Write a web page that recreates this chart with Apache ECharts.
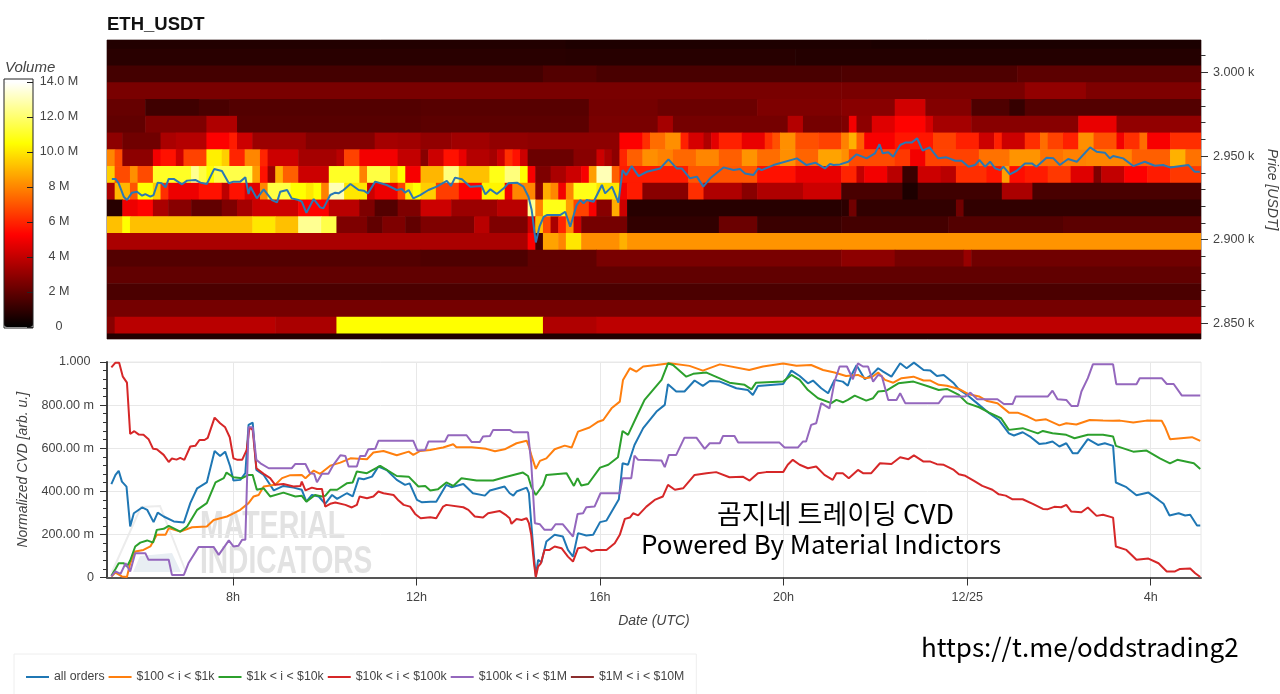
<!DOCTYPE html>
<html><head><meta charset="utf-8">
<style>html,body{margin:0;padding:0;background:#fff}#c{width:1280px;height:694px}</style>
<script src="https://cdn.jsdelivr.net/npm/echarts@6/dist/echarts.min.js"></script>
</head><body><div id="c"></div>
<script>
// ---------- tick labels ----------
const timeTicks=[8,12,16,20,24,28];
const timeLabels={8:'8h',12:'12h',16:'16h',20:'20h',24:'12/25',28:'4h'};
const priceMajor=[2850,2900,2950,3000];
const priceMinor=[2850,2860,2870,2880,2890,2900,2910,2920,2930,2940,2950,2960,2970,2980,2990,3000,3010];
const volumeTicks=[0,2,4,6,8,10,12,14];
const seriesNames=['all orders','$100 < i < $1k','$1k < i < $10k','$10k < i < $100k','$100k < i < $1M','$1M < i < $10M'];

// ---------- volume heat map: per price row, pairs of (number of 10-minute columns, volume in M) ----------
const vol3020=[60,.7,40,.62,43,.55];
const vol3010=[60,.85,30,.8,53,.75];
const vol3000=[57,1.4,7,1.7,32,1.5,23,1.6,24,1.9];
const vol2990=[96,2.5,24,2.5,8,3.0,15,2.6];
const vol2980=[5,2.1,7,1.3,4,1.5,25,1.7,22,1.8,9,2.4,13,2.2,11,2.6,7,2.8,4,4.3,6,2.7,5,1.6,2,1.1,23,1.7];
const vol2970=[5,2.0,8,2.6,4,3.6,24,1.8,22,1.9,9,2.5,2,3.4,15,2.4,2,3.7,5,2.4,1,2.6,1,5.0,2,2.9,3,4.6,4,5.3,1,4.4,5,3.4,14,2.8,5,4.8,11,3.0];
const vol2960=[2,2.9,5,2.3,2,3.5,4,3.7,3,5.2,1,5.8,2,4.2,7,3.2,9,2.7,3,3.4,3,3.3,4,3.0,5,3.3,5,3.0,12,2.9,3,5.2,1,6.2,2,7.5,2,8.2,1,5.9,2,4.4,1,3.6,1,4.7,3,5.9,3,4.8,1,6.2,1,6.9,2,8.2,3,6.9,3,6.6,1,7.9,1,8.9,1,7.2,4,5.1,5,5.7,3,6.6,3,5.9,2,4.2,1,5.9,3,4.2,2,6.2,1,7.5,2,6.6,2,5.9,2,8.2,3,6.9,1,5.0,2,6.2,1,7.5,3,5.1,4,6.2];
const vol2950=[1,8.0,1,6.8,4,2.9,1,5.0,2,5.6,1,4.2,3,6.6,2,10.2,1,9.5,2,6.0,2,8.0,1,6.0,4,4.2,5,3.4,1,3.8,2,6.6,5,5.0,3,4.0,1,2.8,2,4.2,2,5.6,1,4.8,3,3.7,1,3.4,1,4.2,1,6.2,1,5.6,1,4.2,6,2.2,3,2.8,1,4.2,1,3.5,1,2.9,1,6,2,7.2,2,8.2,2,7.9,3,7.4,3,8.0,3,7.2,2,8.3,3,7.5,2,8.2,3,7.3,3,8.6,1,8.2,6,6.8,2,6.4,2,5.0,7,6.6,4,7.6,4,8.3,3,7.6,3,7.9,6,8.0,5,7.2,2,8.9,2,7.6];
const vol2940=[1,9.5,2,6.8,1,8.2,2,6.8,5,11,1,12.5,1,11.4,1,10.5,5,11.5,1,8.5,1,5.6,1,3.2,1,8.9,2,7.2,4,4.2,4,11,1,7.9,3,11.4,1,9.4,1,10.5,2,5.1,3,9,2,12.2,4,9.2,2,10.8,2,12.2,1,10.5,1,5.1,2,2.6,2,3.5,2,4.2,1,5.1,1,8.5,2,13,1,7.2,9,5.8,9,7.0,5,5.6,6,4.8,2,6.0,1,4.0,3,5.0,2,3.8,2,1.2,3,4.2,2,3.8,4,6.2,2,5.7,1,8.5,2,5.5,3,5.8,3,6.4,3,4.6,1,2.6,3,4.0,3,5.2,3,5.8,4,6.4];
const vol2930=[1,3.5,2,9,1,7,2,10.5,1,9.4,1,6.2,4,4.9,3,5.6,1,3.9,2,5.6,2,4.6,1,8,3,11.4,2,10.5,1,10,1,10.5,1,7.9,2,13,3,10,1,4.2,3,4.9,1,6.6,1,10,1,10.5,2,9.5,3,6.5,3,5.2,3,10.3,1,5.0,3,8.0,1,2.8,1,8.8,1,8.0,1,5.0,1,8.0,3,10.8,3,10,1,5.0,2,5.8,6,2.8,2,6.2,5,3.6,2,2.8,6,3.6,5,4.2,8,1.5,2,.6,11,1.3,4,3.5,22,1.5];
const vol2920=[2,.8,2,4.9,2,5.3,2,3.5,3,2.8,4,2.0,2,2.6,2,3.4,6,4.2,4,5.2,4,3.8,2,2.6,3,1.7,3,2.6,4,4.2,6,3.2,4,3.8,1,12.5,1,7.9,3,10.8,1,8.5,2,6.6,1,5.1,2,2.8,1,8.8,1,4.2,28,.8,1,.9,1,2.3,13,1.0,1,2.3,31,1.0];
const vol2910=[2,9.2,1,10.5,16,9.2,3,10,3,9.2,3,12.5,2,11.5,4,2.6,2,2.0,3,2.6,2,2.0,7,2.6,2,3.8,5,2.6,1,4.2,1,9.2,1,6.8,1,3.5,1,6,1,8.2,1,4.2,6,2.4,12,1.0,5,2.2,11,1.2,14,1.4,15,1.7,18,1.9];
const vol2900=[55,3.5,1,5.2,1,1.5,2,8.6,1,8,2,10,5,8.2,1,8.9,75,8.3];
const vol2890=[41,1.7,14,1.6,9,2.0,32,2.5,7,2.9,9,2.4,1,3.1,30,2.3];
const vol2880=[143,2.0];
const vol2870=[143,1.55];
const vol2860=[143,2.4];
const vol2850=[1,2.8,21,3.8,8,3.5,27,10.5,7,3.6,79,3.9];
const vol2840=[143,.7];
const volumeRows=[[3020,vol3020],[3010,vol3010],[3000,vol3000],[2990,vol2990],[2980,vol2980],[2970,vol2970],[2960,vol2960],[2950,vol2950],[2940,vol2940],[2930,vol2930],[2920,vol2920],[2910,vol2910],[2900,vol2900],[2890,vol2890],[2880,vol2880],[2870,vol2870],[2860,vol2860],[2850,vol2850],[2840,vol2840]];

// ---------- price line [hour, USDT] ----------
const priceLine=[[5.36,2936.3],[5.44,2936.3],[5.51,2933.7],[5.62,2925.7],[5.69,2923.7],[5.80,2928.1],[5.91,2928.7],[6.02,2926.3],[6.09,2927.3],[6.20,2925.7],[6.27,2926.7],[6.36,2934.1],[6.45,2933.7],[6.53,2931.3],[6.60,2936.3],[6.71,2936.3],[6.89,2933.1],[7.0,2935.3],[7.18,2935.7],[7.29,2934.1],[7.43,2933.3],[7.59,2942.2],[7.76,2941],[7.91,2933.7],[8.01,2934.7],[8.16,2934.7],[8.27,2937.3],[8.34,2927.3],[8.38,2931.7],[8.52,2924.7],[8.67,2930.1],[8.85,2923.7],[8.96,2922.3],[9.03,2928.7],[9.18,2929.7],[9.28,2924.7],[9.43,2923.7],[9.50,2922.7],[9.60,2916.1],[9.76,2924.3],[9.90,2919.3],[9.97,2918.7],[10.12,2926.7],[10.23,2928.1],[10.30,2927.7],[10.41,2929.7],[10.56,2933.3],[10.74,2929.7],[10.85,2929.3],[10.94,2927.7],[11.10,2934.7],[11.35,2932.7],[11.57,2929.7],[11.68,2930.3],[11.75,2928.1],[11.83,2929.7],[11.93,2924.7],[12.08,2926.7],[12.26,2929.7],[12.44,2931.7],[12.66,2935.1],[12.75,2932.1],[12.84,2937.1],[12.99,2936.1],[13.17,2931.7],[13.42,2932.1],[13.50,2927.1],[13.61,2930.1],[13.75,2927.3],[13.90,2930.7],[14.0,2933.7],[14.19,2934.1],[14.33,2931.7],[14.44,2925.7],[14.51,2917.7],[14.60,2898.4],[14.68,2907.8],[14.77,2913.7],[14.84,2914.7],[15.13,2914.7],[15.24,2916.7],[15.35,2907.8],[15.49,2920.7],[15.57,2923.7],[15.64,2921.7],[15.71,2923.7],[15.86,2922.7],[16.04,2932.7],[16.11,2927.7],[16.26,2931.7],[16.40,2922.1],[16.49,2941.6],[16.57,2938.6],[16.69,2944],[16.84,2938],[17.02,2940.6],[17.31,2942.6],[17.49,2948],[17.67,2942.6],[17.78,2942.6],[17.96,2936.7],[18.11,2937.7],[18.25,2931.7],[18.40,2936.7],[18.69,2943.2],[18.91,2941.6],[19.05,2942.2],[19.16,2939.6],[19.34,2938.6],[19.45,2942.6],[19.52,2941.6],[19.78,2944.6],[20.29,2948.6],[20.50,2944.6],[20.69,2946],[20.90,2942.6],[21.01,2945.2],[21.09,2944.6],[21.23,2945],[21.41,2946.6],[21.59,2951],[21.81,2948.6],[21.99,2951.6],[22.09,2957],[22.16,2951.6],[22.28,2952.2],[22.39,2949.6],[22.54,2956.6],[22.65,2958],[22.79,2958],[22.91,2960.6],[23.03,2953.2],[23.18,2955.2],[23.37,2948.6],[23.55,2949.2],[23.74,2947.2],[23.88,2947.2],[24.03,2943.6],[24.17,2944.6],[24.27,2947.6],[24.39,2943.6],[24.50,2946.6],[24.61,2942.6],[24.72,2941.6],[24.79,2943.6],[24.93,2939],[25.08,2941.2],[25.26,2945.6],[25.41,2945.6],[25.51,2943.6],[25.73,2949],[25.88,2948.6],[26.02,2944.6],[26.20,2948.2],[26.39,2946.6],[26.68,2955.2],[26.82,2952.6],[27.0,2952],[27.11,2948.6],[27.18,2950],[27.40,2948.6],[27.62,2944],[27.87,2946.6],[28.09,2944.2],[28.27,2944.6],[28.42,2943.2],[28.82,2944.6],[28.96,2940.6],[29.07,2940.6]];

// ---------- CVD lines [hour, milli-units] ----------
const cvdAll=[[5.35,433],[5.44,476],[5.51,495],[5.58,445],[5.68,422],[5.76,237],[5.84,298],[6.02,325],[6.13,314],[6.27,257],[6.36,301],[6.49,283],[6.71,260],[6.93,255],[7.07,345],[7.22,414],[7.43,441],[7.60,587],[7.72,564],[7.83,584],[7.94,515],[8.01,450],[8.16,453],[8.27,484],[8.34,708],[8.43,719],[8.51,499],[8.67,476],[8.89,404],[9.10,425],[9.32,417],[9.50,407],[9.60,352],[9.72,383],[9.87,376],[10.01,342],[10.16,383],[10.27,365],[10.48,391],[10.61,376],[10.74,461],[10.85,456],[11.03,468],[11.17,515],[11.35,499],[11.57,453],[11.75,430],[11.85,437],[12.01,360],[12.12,349],[12.30,352],[12.43,352],[12.65,430],[12.76,419],[13.02,434],[13.23,391],[13.49,380],[13.60,404],[13.92,422],[14.03,391],[14.11,380],[14.18,399],[14.40,417],[14.45,391],[14.50,252],[14.56,97],[14.60,5],[14.65,82],[14.72,70],[14.83,167],[15.01,198],[15.19,190],[15.30,128],[15.41,97],[15.52,206],[15.70,195],[15.85,198],[16.0,257],[16.14,264],[16.41,363],[16.49,530],[16.61,523],[16.75,615],[16.94,693],[17.23,770],[17.41,801],[17.48,897],[17.66,863],[17.84,863],[18.06,914],[18.24,889],[18.39,912],[18.61,909],[18.97,878],[19.22,870],[19.33,847],[19.44,889],[19.99,898],[20.17,960],[20.35,935],[20.53,901],[20.64,914],[20.82,878],[20.97,855],[21.11,917],[21.29,909],[21.40,890],[21.48,940],[21.59,985],[21.77,920],[21.92,940],[22.06,971],[22.17,955],[22.35,932],[22.54,994],[22.68,971],[22.84,997],[23.05,963],[23.20,960],[23.34,935],[23.49,940],[23.71,901],[23.82,873],[24.0,847],[24.26,801],[24.48,762],[24.69,731],[24.91,669],[25.02,659],[25.21,674],[25.39,651],[25.57,620],[25.72,623],[25.86,631],[26.01,608],[26.16,623],[26.30,577],[26.41,577],[26.63,642],[26.85,615],[27.0,623],[27.18,611],[27.24,441],[27.47,419],[27.69,382],[27.95,394],[28.17,360],[28.28,342],[28.41,288],[28.61,298],[28.75,288],[28.86,291],[29.01,241],[29.08,241]];
const cvd100=[[5.35,5],[5.44,23],[5.58,5],[5.69,2],[5.76,66],[5.87,121],[6.05,128],[6.20,144],[6.34,198],[6.53,198],[6.60,229],[6.85,213],[7.11,233],[7.43,237],[7.58,267],[7.87,283],[8.01,298],[8.16,314],[8.34,345],[8.45,376],[8.56,383],[8.67,422],[8.92,430],[9.07,461],[9.25,475],[9.50,476],[9.58,461],[9.76,496],[9.90,481],[10.12,519],[10.34,533],[10.56,553],[10.92,549],[11.06,580],[11.28,587],[11.57,567],[11.83,584],[11.93,569],[12.08,587],[12.30,592],[12.43,597],[12.58,603],[12.80,618],[12.87,604],[13.20,604],[13.52,597],[13.71,586],[13.92,595],[14.18,623],[14.40,635],[14.45,608],[14.50,569],[14.60,504],[14.69,541],[14.83,553],[15.01,595],[15.23,612],[15.38,603],[15.52,677],[15.77,696],[15.96,723],[16.07,731],[16.25,785],[16.43,816],[16.50,917],[16.65,971],[16.79,955],[16.94,979],[17.23,986],[17.52,994],[17.95,982],[18.24,960],[18.61,989],[19.25,963],[19.55,979],[19.99,993],[20.28,983],[20.60,986],[20.86,963],[21.11,951],[21.36,935],[21.62,940],[21.77,925],[21.92,929],[22.06,951],[22.21,917],[22.39,904],[22.57,925],[22.83,932],[23.05,914],[23.20,914],[23.38,894],[23.56,890],[23.82,875],[24.04,850],[24.26,840],[24.44,819],[24.66,809],[24.91,765],[25.10,765],[25.32,747],[25.50,728],[25.72,734],[26.01,706],[26.16,716],[26.38,710],[26.67,731],[26.96,728],[27.18,727],[27.33,728],[27.62,719],[27.91,728],[28.24,727],[28.31,700],[28.42,642],[28.90,651],[29.08,634]];
const cvd1k=[[5.35,8],[5.44,39],[5.51,66],[5.62,66],[5.69,51],[5.76,79],[5.87,144],[5.98,162],[6.13,172],[6.26,162],[6.34,221],[6.49,226],[6.60,240],[6.85,213],[7.0,237],[7.22,314],[7.43,345],[7.62,441],[7.80,461],[7.86,487],[8.01,465],[8.20,461],[8.34,476],[8.43,476],[8.52,407],[8.67,414],[8.81,376],[9.10,394],[9.36,376],[9.50,379],[9.60,352],[9.79,383],[9.94,376],[10.01,379],[10.12,407],[10.27,407],[10.48,437],[10.61,441],[10.70,492],[10.92,484],[11.21,518],[11.57,471],[11.83,468],[12.04,422],[12.19,425],[12.30,404],[12.47,410],[12.65,441],[12.80,425],[12.98,461],[13.31,450],[13.67,450],[13.92,465],[14.32,487],[14.43,471],[14.50,422],[14.60,383],[14.76,430],[14.83,476],[15.27,484],[15.43,425],[15.51,461],[15.59,427],[15.74,434],[16.0,510],[16.18,523],[16.39,558],[16.49,680],[16.61,662],[16.83,762],[16.97,824],[17.34,917],[17.48,994],[17.59,986],[17.88,932],[18.03,945],[18.32,951],[18.82,904],[19.15,894],[19.30,873],[19.40,904],[19.99,909],[20.17,940],[20.35,917],[20.53,870],[20.75,832],[21.04,809],[21.15,824],[21.29,813],[21.40,824],[21.55,844],[21.80,821],[21.95,832],[22.06,863],[22.24,867],[22.50,901],[22.83,909],[23.16,886],[23.38,870],[23.56,875],[23.82,847],[24.0,809],[24.26,790],[24.48,765],[24.74,739],[24.91,685],[25.21,693],[25.54,669],[25.65,680],[25.86,669],[26.16,662],[26.34,646],[26.63,662],[26.96,662],[27.18,654],[27.24,611],[27.62,584],[27.91,589],[28.20,553],[28.42,530],[28.58,546],[28.94,530],[29.08,504]];
const cvd10k=[[5.35,975],[5.44,997],[5.52,997],[5.60,932],[5.69,904],[5.76,666],[5.85,679],[5.95,663],[6.05,662],[6.16,642],[6.26,597],[6.34,595],[6.49,569],[6.60,536],[6.67,552],[6.77,547],[6.85,555],[6.94,546],[7.07,608],[7.18,611],[7.27,638],[7.38,638],[7.45,648],[7.60,742],[7.72,716],[7.83,697],[7.93,651],[8.01,553],[8.10,546],[8.20,546],[8.30,592],[8.36,697],[8.43,685],[8.51,507],[8.67,481],[8.81,461],[8.92,430],[9.10,434],[9.32,422],[9.47,425],[9.50,445],[9.58,404],[9.72,417],[9.83,411],[9.94,411],[10.01,329],[10.12,342],[10.23,348],[10.45,337],[10.59,325],[10.70,337],[10.76,376],[10.92,368],[11.06,376],[11.17,399],[11.28,391],[11.50,383],[11.61,357],[11.72,337],[11.86,329],[11.97,295],[12.09,275],[12.30,280],[12.43,275],[12.58,329],[12.65,337],[13.02,326],[13.13,314],[13.27,283],[13.45,278],[13.56,298],[13.81,309],[13.96,288],[14.03,275],[14.07,249],[14.18,271],[14.29,267],[14.40,275],[14.45,252],[14.50,198],[14.56,66],[14.60,2],[14.65,51],[14.71,66],[14.79,128],[14.90,128],[15.01,144],[15.16,136],[15.30,97],[15.41,74],[15.52,136],[15.67,141],[15.81,121],[15.92,128],[16.14,128],[16.32,159],[16.43,198],[16.54,272],[16.65,278],[16.72,298],[16.83,288],[17.01,329],[17.19,360],[17.37,376],[17.48,430],[17.63,407],[17.81,414],[18.06,476],[18.32,484],[18.53,489],[18.82,465],[19.11,468],[19.26,450],[19.44,484],[19.62,489],[19.99,489],[20.09,523],[20.20,546],[20.35,523],[20.53,507],[20.71,515],[20.89,476],[21.07,453],[21.15,484],[21.29,484],[21.42,461],[21.62,499],[21.73,484],[21.91,484],[22.10,530],[22.35,527],[22.54,558],[22.72,549],[22.84,567],[23.05,538],[23.20,538],[23.34,526],[23.49,523],[23.71,499],[23.82,479],[23.96,472],[24.15,448],[24.33,425],[24.55,407],[24.69,386],[24.84,380],[24.99,363],[25.21,363],[25.43,342],[25.65,318],[25.76,317],[25.90,328],[26.05,326],[26.16,337],[26.27,306],[26.49,303],[26.63,325],[26.82,286],[26.96,291],[27.18,278],[27.24,144],[27.47,128],[27.69,82],[27.95,88],[28.17,66],[28.35,28],[28.53,28],[28.64,40],[28.86,42],[28.97,20],[29.08,2]];
const cvd100k=[[5.35,5],[5.44,28],[5.55,17],[5.66,66],[5.76,28],[5.87,113],[6.09,113],[6.16,82],[6.60,82],[6.67,12],[6.93,12],[7.03,66],[7.25,141],[7.58,141],[7.69,105],[7.91,172],[8.01,144],[8.12,147],[8.20,175],[8.27,175],[8.34,697],[8.43,697],[8.51,546],[8.60,530],[8.78,507],[9.28,507],[9.36,527],[9.58,527],[9.68,484],[9.77,481],[9.83,442],[9.94,481],[10.08,481],[10.19,523],[10.34,567],[10.45,564],[10.52,515],[10.70,515],[10.77,564],[10.88,564],[10.95,595],[11.10,597],[11.17,634],[11.93,634],[12.02,589],[12.19,592],[12.26,631],[12.62,631],[12.69,660],[13.09,660],[13.20,629],[13.38,629],[13.45,654],[13.60,657],[13.67,685],[14.03,685],[14.11,674],[14.43,674],[14.50,530],[14.58,252],[14.69,247],[14.79,221],[14.94,221],[15.03,247],[15.19,247],[15.41,190],[15.51,295],[15.63,298],[15.70,326],[15.88,329],[16.01,391],[16.43,391],[16.49,461],[16.68,461],[16.75,566],[16.83,546],[17.34,543],[17.41,512],[17.50,569],[17.66,569],[17.84,649],[18.10,649],[18.28,597],[18.39,623],[18.61,623],[18.68,657],[18.93,657],[19.01,626],[19.91,626],[20.02,603],[20.31,603],[20.42,631],[20.49,631],[20.60,708],[20.71,716],[20.82,809],[21.0,785],[21.11,909],[21.22,979],[21.38,979],[21.51,920],[21.62,994],[21.73,979],[21.84,979],[21.95,909],[22.06,940],[22.14,935],[22.28,824],[22.46,824],[22.54,855],[22.65,809],[23.38,809],[23.49,840],[23.96,840],[24.07,858],[24.22,827],[24.66,827],[24.80,805],[24.99,805],[25.06,840],[25.76,840],[25.86,867],[25.97,827],[26.16,824],[26.27,796],[26.41,796],[26.49,863],[26.63,925],[26.74,989],[27.18,989],[27.25,897],[27.69,897],[27.76,925],[28.24,925],[28.35,898],[28.50,898],[28.68,844],[29.08,844]];
const cvd1M=[];

// ---------- build ----------
const heatCols=10/60, hourMin=5.255, hourMax=29.096;
const heatCells=[];
volumeRows.forEach(([p,row])=>{let h=hourMin;for(let i=0;i<row.length;i+=2){const e=h+row[i]*heatCols;heatCells.push([h,e,p-6,p+4,row[i+1]]);h=e;}});
const font='"Liberation Sans",Helvetica,Arial,sans-serif';
const tc='#444';
const colors=['#1f77b4','#ff7f0e','#2ca02c','#d62728','#9467bd','#8c2d2d'];
const cvdData=[cvdAll,cvd100,cvd1k,cvd10k,cvd100k,cvd1M];
const fmtCvd=v=>v===0?'0':v===1000?'1.000 ':v.toFixed(2)+' m';
const chart=echarts.init(document.getElementById('c'),null,{renderer:'canvas'});
chart.setOption({
 animation:false,
 textStyle:{fontFamily:font},
 grid:[
  {left:107,width:1094,top:40,height:299,show:true,outerBoundsMode:'none',borderColor:'#6a5a5a',borderWidth:1,backgroundColor:'transparent'},
  {left:107,width:1094,top:362,height:215.5,show:true,outerBoundsMode:'none',borderColor:'#e8e8e8',borderWidth:1},
  {left:33,width:29,top:79,height:249,show:false,outerBoundsMode:'none'}
 ],
 xAxis:[
  {gridIndex:0,type:'value',min:hourMin,max:hourMax,show:false},
  {gridIndex:1,type:'value',min:hourMin,max:hourMax,
   name:'Date (UTC)',nameLocation:'middle',nameGap:37,nameTextStyle:{fontStyle:'italic',fontSize:14,color:tc,fontFamily:font},
   axisLine:{show:true,lineStyle:{color:'#555',width:2}},
   axisTick:{show:true,customValues:timeTicks,length:8,lineStyle:{color:'#333'}},
   axisLabel:{customValues:timeTicks,formatter:v=>timeLabels[v],color:tc,fontSize:12.6,margin:14,fontFamily:font},
   splitLine:{show:true,lineStyle:{color:'#e8e8e8'}}},
  {gridIndex:2,type:'value',min:0,max:1,show:false}
 ],
 yAxis:[
  {gridIndex:0,type:'value',position:'right',min:2840.7,max:3019.3,
   name:'Price [USDT]',nameLocation:'middle',nameGap:61,nameRotate:-90,nameTextStyle:{fontStyle:'italic',fontSize:14,color:tc,fontFamily:font},
   axisLine:{show:false},splitLine:{show:false},
   axisTick:{show:true,customValues:priceMajor,length:7,lineStyle:{color:'#333'}},
   axisLabel:{customValues:priceMajor,formatter:v=>(v/1000).toFixed(3)+' k',color:tc,fontSize:12.6,margin:12,fontFamily:font}},
  {gridIndex:0,type:'value',position:'right',min:2840.7,max:3019.3,
   axisLine:{show:false},splitLine:{show:false},
   axisTick:{show:true,customValues:priceMinor,length:4.5,lineStyle:{color:'#333'}},
   axisLabel:{show:false}},
  {gridIndex:1,type:'value',min:0,max:1000,interval:200,
   name:'Normalized CVD [arb. u.]',nameLocation:'middle',nameGap:71,nameRotate:90,nameTextStyle:{fontStyle:'italic',fontSize:14,color:tc,fontFamily:font},
   axisLine:{show:true,lineStyle:{color:'#444',width:2}},
   axisTick:{show:true,length:7,lineStyle:{color:'#333'}},
   minorTick:{show:true,splitNumber:5,length:4,lineStyle:{color:'#333'}},
   axisLabel:{formatter:fmtCvd,color:tc,fontSize:12.6,margin:13,fontFamily:font},
   splitLine:{show:true,lineStyle:{color:'#e8e8e8'}}},
  {gridIndex:2,type:'value',position:'left',min:-0.06,max:14.17,z:10,
   axisLine:{show:false},splitLine:{show:false},
   axisTick:{show:true,customValues:volumeTicks,length:6,lineStyle:{color:'#222'}},
   axisLabel:{inside:true,customValues:volumeTicks,formatter:v=>v===0?'0':v>=10?v.toFixed(1)+' M':v+' M',color:tc,fontSize:12.6,margin:26,align:'center',fontFamily:font}}
 ],
 visualMap:{type:'continuous',seriesIndex:0,dimension:4,min:0,max:14,show:true,left:4,top:82,itemWidth:29,itemHeight:245,padding:0,calculable:false,realtime:false,text:null,showLabel:false,
  inRange:{color:['#000000','#550000','#aa0000','#ff0000','#ff5500','#ffaa00','#ffff00','#ffff80','#ffffff']},textStyle:{fontSize:0}},
 legend:{left:14,top:654,padding:[17,12,17,12],itemWidth:23,itemHeight:2,icon:'rect',itemGap:4,borderColor:'#eee',borderWidth:1,backgroundColor:'#fff',data:seriesNames,textStyle:{fontSize:12.3,color:tc,fontFamily:font},selectedMode:false},
 graphic:[
  {type:'rect',z:20,silent:true,shape:{x:4,y:79,width:29,height:249},style:{fill:'none',stroke:'#222',lineWidth:1}},
  {type:'polyline',z:0,silent:true,shape:{points:[[112,572],[141,507],[160,506],[186,572]]},style:{fill:'none',stroke:'#ececec',lineWidth:2}},
  {type:'polygon',z:0,silent:true,shape:{points:[[133,572],[140,556],[172,553],[181,572]]},style:{fill:'#e8eef3'}},
  {type:'text',z:0,silent:true,x:200,y:509,scaleX:.75,style:{text:'MATERIAL',fill:'#e2e2e2',font:'bold 38px "Liberation Sans"'}},
  {type:'text',z:0,silent:true,x:200,y:544,scaleX:.74,style:{text:'INDICATORS',fill:'#e2e2e2',font:'bold 38px "Liberation Sans"'}},
  {type:'text',z:20,left:107,top:15,style:{text:'ETH_USDT',fill:'#111',font:'bold 18.5px "Liberation Sans"'}},
  {type:'text',z:20,left:5,top:60,style:{text:'Volume',fill:tc,font:'italic 15px "Liberation Sans"'}},
  {type:'text',z:20,left:717,top:500,style:{text:'곰지네 트레이딩 CVD',fill:'#000',font:'27px "Noto Sans CJK KR"'}},
  {type:'text',z:20,left:641,top:531,style:{text:'Powered By Material Indictors',fill:'#000',font:'26px "Noto Sans CJK KR"'}},
  {type:'text',z:20,left:921,top:634,style:{text:'https://t.me/oddstrading2',fill:'#000',font:'26px "Noto Sans CJK KR"'}}
 ],
 series:[
  {type:'custom',name:'volume',xAxisIndex:0,yAxisIndex:0,clip:true,data:heatCells,encode:{x:[0,1],y:[2,3]},silent:true,z:1,
   renderItem:(params,api)=>{const a=api.coord([api.value(0),api.value(3)]),b=api.coord([api.value(1),api.value(2)]);
    return {type:'rect',shape:{x:a[0],y:a[1],width:b[0]-a[0]+.6,height:b[1]-a[1]+.6},style:{fill:api.visual('color')}};}},
  {type:'line',name:'price',xAxisIndex:0,yAxisIndex:0,data:priceLine,showSymbol:false,symbol:'none',z:3,lineStyle:{color:'#2a78b4',width:2},itemStyle:{color:'#2a78b4'}},
  ...seriesNames.map((n,i)=>({type:'line',name:n,xAxisIndex:1,yAxisIndex:2,data:cvdData[i],showSymbol:false,symbol:'none',z:3+i,lineStyle:{color:colors[i],width:2},itemStyle:{color:colors[i]}}))
 ]
});
</script></body></html>
